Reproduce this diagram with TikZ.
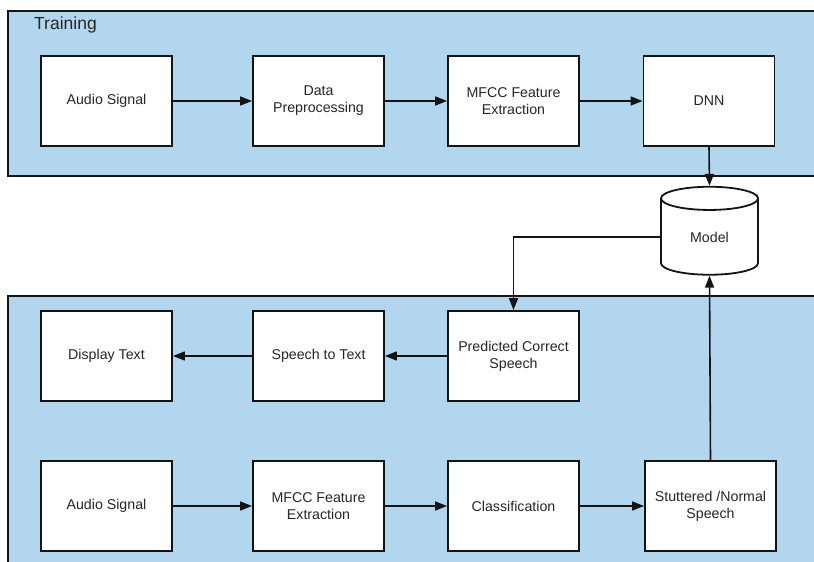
\documentclass[tikz,border=0pt]{standalone}
\usepackage{fontspec}
\setmainfont{Liberation Sans}
\usetikzlibrary{shapes.geometric,arrows.meta}
\definecolor{panelblue}{RGB}{178,214,238}
\definecolor{edge}{RGB}{20,20,20}
\begin{document}
\begin{tikzpicture}[x=1pt,y=-1pt,
  box/.style={draw=edge,line width=1.8pt,fill=white,minimum width=131pt,minimum height=90pt,inner sep=0pt,align=center,font=\fontsize{14.2}{17}\selectfont,text=black!85},
  panel/.style={draw=edge,line width=1.8pt,fill=panelblue},
  conn/.style={draw=edge,line width=1.6pt,-{Triangle[length=12pt,width=9pt]}},
  plain/.style={draw=edge,line width=1.6pt}]
\useasboundingbox (0,0) rectangle (814,562);
\clip (0,0) rectangle (814,562);
\path[panel] (8,11) rectangle (822,176);
\path[panel] (8,296) rectangle (822,575);
\node[anchor=west,inner sep=0pt,font=\fontsize{17.5}{20}\selectfont,text=black!85] (train) at (34,25) {Training};
% training row
\node[box] (a1) at (106.5,101) {Audio Signal};
\node[box] (a2) at (318.5,101) {Data\\Preprocessing};
\node[box] (a3) at (513.5,101) {MFCC Feature\\Extraction};
\node[box] (a4) at (709,101) {DNN};
% model
\node[cylinder,shape border rotate=90,draw=edge,line width=1.8pt,fill=white,minimum height=88pt,minimum width=97pt,aspect=0.6,inner sep=0pt,font=\fontsize{14.2}{17}\selectfont,text=black!85] (m) at (709.5,237) {Model};
% testing row 1
\node[box] (b1) at (106.5,356) {Display Text};
\node[box] (b2) at (318.5,356) {Speech to Text};
\node[box] (b3) at (513.5,356) {Predicted Correct\\Speech};
% testing row 2
\node[box] (c1) at (106.5,506) {Audio Signal};
\node[box] (c2) at (318.5,506) {MFCC Feature\\Extraction};
\node[box] (c3) at (513.5,506) {Classification};
\node[box] (c4) at (710.5,506) {Stuttered /Normal\\Speech};
% connectors
\draw[conn] (a1) -- (a2);
\draw[conn] (a2) -- (a3);
\draw[conn] (a3) -- (a4);
\draw[conn] (a4.south) -- (m.top);
\draw[conn] (m.west) -| (b3.north);
\draw[conn] (b3) -- (b2);
\draw[conn] (b2) -- (b1);
\draw[conn] (c1) -- (c2);
\draw[conn] (c2) -- (c3);
\draw[conn] (c3) -- (c4);
\draw[conn] (c4.north) -- (m.bottom);
\end{tikzpicture}
\end{document}
